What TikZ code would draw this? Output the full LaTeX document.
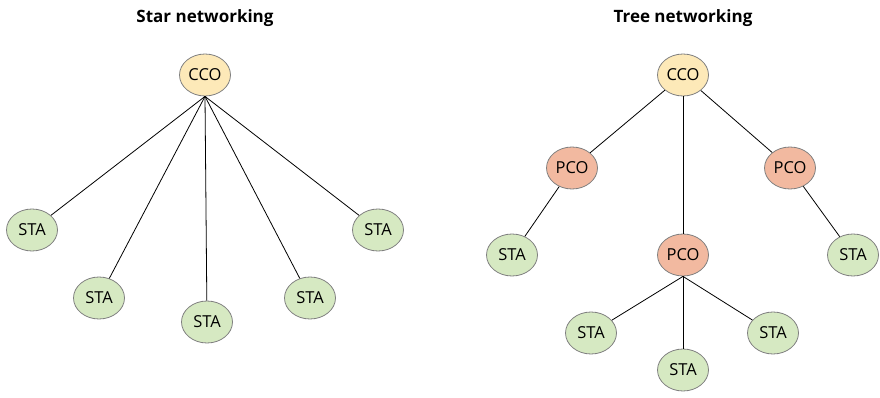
\documentclass[tikz,border=0pt]{standalone}
\usepackage{fontspec}
\setmainfont{Open Sans}
\usetikzlibrary{shapes.geometric}
\definecolor{ccofill}{HTML}{FDE9B8}
\definecolor{pcofill}{HTML}{F2B9A0}
\definecolor{stafill}{HTML}{D6E9C2}
\definecolor{edgegray}{HTML}{808080}
\tikzset{
  nd/.style={ellipse, draw=edgegray, line width=0.8pt, minimum width=51pt, minimum height=42pt, inner sep=0pt, font=\fontsize{16.5}{16.5}\selectfont},
  cco/.style={nd, fill=ccofill},
  pco/.style={nd, fill=pcofill},
  sta/.style={nd, fill=stafill},
  link/.style={draw=black, line width=0.8pt},
  ttl/.style={font=\bfseries\fontsize{17}{17}\selectfont}
}
\begin{document}
\begin{tikzpicture}[x=1pt,y=-1pt]
\useasboundingbox (0,0) rectangle (880,398);
% titles
\node[ttl] (t1) at (205,18) {Star networking};
\node[ttl] (t2) at (683,18) {Tree networking};
% star
\node[cco] (c1) at (205,75) {CCO};
\node[sta] (s1) at (32,230) {STA};
\node[sta] (s2) at (99,298) {STA};
\node[sta] (s3) at (207,322) {STA};
\node[sta] (s4) at (310,298) {STA};
\node[sta] (s5) at (378,230) {STA};
\foreach \n in {s1,s2,s3,s4,s5} \draw[link] (c1.south) -- (\n);
% tree
\node[cco] (c2) at (683,75) {CCO};
\node[pco] (p1) at (572,168) {PCO};
\node[pco] (p2) at (790,168) {PCO};
\node[pco] (p3) at (683,255) {PCO};
\node[sta] (a1) at (512,255) {STA};
\node[sta] (a2) at (853,255) {STA};
\node[sta] (a3) at (591,333) {STA};
\node[sta] (a4) at (683,370) {STA};
\node[sta] (a5) at (773,333) {STA};
\draw[link] (c2) -- (p1);
\draw[link] (c2) -- (p2);
\draw[link] (c2) -- (p3);
\draw[link] (p1) -- (a1);
\draw[link] (p2) -- (a2);
\draw[link] (p3.south) -- (a3);
\draw[link] (p3.south) -- (a4);
\draw[link] (p3.south) -- (a5);
\end{tikzpicture}
\end{document}
